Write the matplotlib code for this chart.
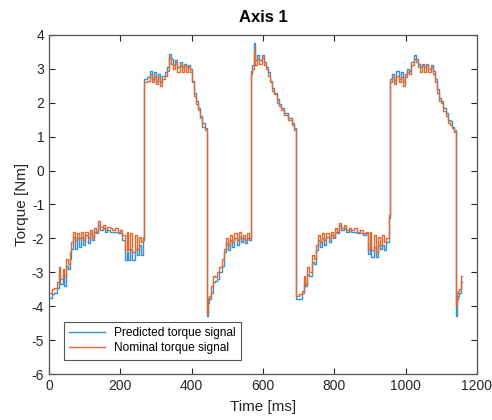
import matplotlib.pyplot as plt

# knot times [ms] and torque values [Nm]
time_ms = [
    0, 8, 15, 22, 28, 32, 38, 42, 48, 52, 58, 62, 66, 72, 78, 84, 90, 96, 102, 108,
    114, 120, 126, 132, 138, 144, 150, 156, 162, 170, 178, 186, 194, 200, 206, 212,
    218, 222, 228, 234, 240, 246, 252, 258, 264,
    267, 275, 282, 288, 294, 300, 306, 312, 318, 324, 330, 336, 342, 348, 354, 360,
    366, 372, 378, 384, 390, 396, 400, 406, 412, 418, 424, 430, 436,
    442, 445, 448, 454, 460, 466, 472, 478, 484, 490, 496, 502, 508, 514, 520, 526,
    532, 538, 544, 550, 556, 562,
    566, 570, 574, 578, 584, 590, 596, 602, 608, 614, 620, 626, 632, 638, 644, 650,
    660, 670, 680, 688,
    692, 700, 708, 714, 718, 724, 730, 736, 742, 748, 754, 760, 766, 772, 778, 784,
    790, 796, 802, 808, 814, 820, 826, 832, 840, 848, 856, 864, 872, 880, 888, 894,
    900, 904, 910, 916, 922, 928, 934, 940, 946, 952,
    956, 962, 968, 974, 980, 986, 992, 998, 1004, 1010, 1016, 1022, 1028, 1034, 1040,
    1046, 1052, 1058, 1064, 1070, 1076, 1082, 1088, 1094, 1100, 1106, 1112, 1118, 1124,
    1130, 1136,
    1140, 1143, 1146, 1150, 1154, 1158,
]

nominal = [
    -3.6, -3.5, -3.45, -3.3, -2.85, -3.2, -2.9, -3.1, -2.6, -2.75, -2.4, -2.1, -1.8, -2.05,
    -1.85, -2.0, -1.8, -2.05, -1.8, -2.0, -1.75, -1.95, -1.7, -1.8, -1.5, -1.65, -1.6,
    -1.75, -1.65, -1.7, -1.75, -1.7, -1.8, -1.75, -1.9, -2.35, -1.8, -2.35, -1.85, -2.4,
    -1.9, -2.3, -1.95, -2.1, -1.95,
    2.6, 2.65, 2.85, 2.6, 2.8, 2.55, 2.75, 2.5, 2.7, 2.8, 2.95, 3.35, 3.15, 3.0, 3.2, 2.9,
    3.1, 2.9, 3.1, 2.9, 3.05, 2.9, 2.6, 2.2, 1.95, 1.8, 1.55, 1.3, 1.2,
    -4.2, -3.75, -3.7, -3.4, -3.1, -3.15, -3.0, -2.85, -2.6, -2.3, -2.0, -2.2, -1.9, -2.1,
    -1.85, -2.05, -1.8, -2.0, -1.9, -2.05, -1.85, -2.0,
    2.85, 3.0, 3.55, 3.1, 3.3, 3.15, 3.35, 3.1, 3.0, 2.8, 2.6, 2.35, 2.25, 2.0, 1.9, 1.8,
    1.65, 1.5, 1.35, 1.2,
    -3.7, -3.65, -3.55, -3.1, -3.35, -2.85, -3.0, -2.5, -2.6, -2.2, -1.9, -2.1, -1.85,
    -2.05, -1.85, -2.0, -1.8, -1.95, -1.7, -1.8, -1.55, -1.7, -1.6, -1.75, -1.7, -1.75,
    -1.7, -1.8, -1.75, -1.85, -1.8, -2.3, -1.8, -2.35, -1.9, -2.4, -1.95, -2.2, -1.9,
    -2.1, -2.0, -1.3,
    2.6, 2.75, 2.55, 2.8, 2.6, 2.75, 2.5, 2.75, 2.9, 2.85, 3.1, 3.3, 3.2, 3.05, 2.9,
    3.1, 2.9, 3.1, 2.9, 3.05, 2.85, 2.6, 2.3, 2.05, 2.0, 1.75, 1.6, 1.4, 1.35,
    1.25, 1.15,
    -3.95, -3.6, -3.55, -3.5, -3.1, -3.1,
]

predicted = [
    -3.75, -3.65, -3.6, -3.45, -3.05, -3.35, -3.1, -3.4, -2.8, -2.9, -2.6, -2.3, -1.95,
    -2.3, -2.0, -2.25, -1.95, -2.2, -1.9, -2.15, -1.85, -2.05, -1.8, -1.85, -1.6, -1.75,
    -1.7, -1.8, -1.75, -1.8, -1.8, -1.8, -1.85, -1.85, -2.05, -2.65, -2.4, -2.65, -2.3,
    -2.65, -2.3, -2.5, -2.2, -2.5, -2.05,
    2.7, 2.75, 2.95, 2.7, 2.9, 2.65, 2.85, 2.6, 2.8, 2.9, 3.05, 3.45, 3.3, 3.1, 3.25,
    3.05, 3.2, 3.05, 3.15, 3.05, 3.1, 3.0, 2.65, 2.3, 2.05, 1.85, 1.6, 1.4, 1.25,
    -4.3, -3.9, -3.8, -3.6, -3.3, -3.25, -3.2, -3.0, -2.8, -2.4, -2.15, -2.35, -2.05,
    -2.25, -2.0, -2.2, -1.95, -2.1, -2.0, -2.15, -2.0, -2.05,
    2.95, 3.1, 3.75, 3.25, 3.4, 3.25, 3.4, 3.2, 3.05, 2.9, 2.65, 2.45, 2.3, 2.1, 1.95,
    1.85, 1.7, 1.55, 1.4, 1.25,
    -3.8, -3.8, -3.6, -3.3, -3.4, -3.05, -3.1, -2.7, -2.75, -2.35, -2.05, -2.25, -2.0,
    -2.2, -1.95, -2.1, -1.9, -2.0, -1.8, -1.85, -1.6, -1.75, -1.7, -1.8, -1.75, -1.8,
    -1.8, -1.85, -1.85, -1.9, -1.85, -2.45, -2.1, -2.55, -2.25, -2.55, -2.2, -2.3,
    -2.2, -2.35, -2.1, -1.4,
    2.7, 2.85, 2.65, 2.95, 2.7, 2.9, 2.6, 2.85, 3.0, 2.95, 3.2, 3.4, 3.3, 3.15, 3.05,
    3.15, 3.05, 3.15, 3.0, 3.1, 2.95, 2.7, 2.4, 2.15, 2.05, 1.85, 1.7, 1.5, 1.45,
    1.3, 1.2,
    -4.3, -3.8, -3.7, -3.6, -3.3, -3.3,
]

plt.rcParams['font.family'] = ['Liberation Sans', 'DejaVu Sans']
plt.rcParams['axes.unicode_minus'] = False

fig = plt.figure(figsize=(4.92, 4.2), dpi=100)
ax = fig.add_axes([0.0996, 0.1095, 0.8699, 0.8072])

ax.plot(time_ms, predicted, drawstyle='steps-post', color='#3890d2', lw=1.0,
        label='Predicted torque signal')
ax.plot(time_ms, nominal, drawstyle='steps-post', color='#e06a30', lw=1.0,
        label='Nominal torque signal')

ax.set_xlim(0, 1200)
ax.set_ylim(-6, 4)
ax.set_xticks(range(0, 1201, 200))
ax.set_yticks(range(-6, 5))
ax.tick_params(direction='in', top=True, right=True, labelsize=10,
               colors='#262626', length=4, width=0.8)
for sp in ax.spines.values():
    sp.set_color('#555555')
    sp.set_linewidth(0.9)

ax.set_title('Axis 1', fontsize=12, fontweight='bold', pad=9)
ax.set_xlabel('Time [ms]', fontsize=11, color='#262626', labelpad=5)
ax.set_ylabel('Torque [Nm]', fontsize=11, color='#262626', labelpad=2)

leg = ax.legend(loc='lower left', bbox_to_anchor=(0.02, 0.025), fontsize=8.6,
                fancybox=False, framealpha=1, edgecolor='#555555',
                borderpad=0.45, handlelength=3.0, labelspacing=0.25)
leg.get_frame().set_linewidth(0.8)

fig.savefig('out.png', dpi=100)
